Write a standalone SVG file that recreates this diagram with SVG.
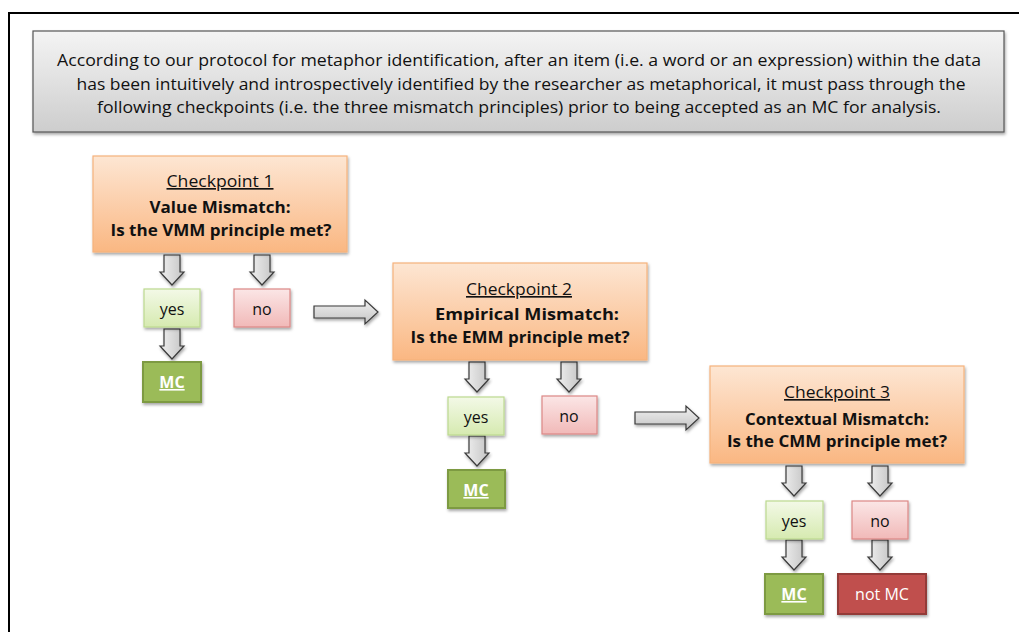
<svg xmlns="http://www.w3.org/2000/svg" xmlns:xlink="http://www.w3.org/1999/xlink" width="1019" height="632" viewBox="0 0 1019 632">
<defs>
<linearGradient id="gHead" x1="0" y1="0" x2="0" y2="1"><stop offset="0" stop-color="#f4f4f4"/><stop offset="1" stop-color="#cdcdcd"/></linearGradient>
<linearGradient id="gOrange" x1="0" y1="0" x2="0" y2="1"><stop offset="0" stop-color="#fde6d3"/><stop offset="1" stop-color="#fab782"/></linearGradient>
<linearGradient id="gYes" x1="0" y1="0" x2="0" y2="1"><stop offset="0" stop-color="#f3f9e7"/><stop offset="1" stop-color="#d6eab0"/></linearGradient>
<linearGradient id="gNo" x1="0" y1="0" x2="0" y2="1"><stop offset="0" stop-color="#fbe6e6"/><stop offset="1" stop-color="#f1b9b8"/></linearGradient>
<linearGradient id="gArrowV" x1="0" y1="0" x2="1" y2="0"><stop offset="0" stop-color="#f0f0f0"/><stop offset="1" stop-color="#c4c4c4"/></linearGradient>
<linearGradient id="gArrowH" x1="0" y1="0" x2="0" y2="1"><stop offset="0" stop-color="#f0f0f0"/><stop offset="1" stop-color="#c4c4c4"/></linearGradient>
<filter id="sh" x="-10%" y="-10%" width="125%" height="140%"><feDropShadow dx="1" dy="2" stdDeviation="1.5" flood-color="#000" flood-opacity="0.35"/></filter>
<path id="downArrow" d="M-8,0 H8 V17 H12 L0,30 L-12,17 H-8 Z"/>
<path id="rightArrow" d="M0,-6 H51 V-12 L64,0 L51,12 V6 H0 Z"/>
</defs>
<style>
text{font-family:"Open Sans",Lato,"Liberation Sans",sans-serif;fill:#111;text-anchor:middle}
.hdr{font-size:16px}
.cp{font-size:16.5px;text-decoration:underline}
.cpb{font-size:16.5px;font-weight:bold}
.lbl{font-size:16px}
.mc{font-size:16px;font-weight:bold;fill:#fff;text-decoration:underline}
.nmc{font-size:16px;fill:#fff}
.orange{fill:url(#gOrange);stroke:#f6b27c;stroke-width:1.2;filter:url(#sh)}
.yesb{fill:url(#gYes);stroke:#bcd98f;stroke-width:1.2;filter:url(#sh)}
.nob{fill:url(#gNo);stroke:#dd8886;stroke-width:1.2;filter:url(#sh)}
.mcb{fill:#9bbb59;stroke:#7d9a43;stroke-width:2;filter:url(#sh)}
.nmcb{fill:#c0504d;stroke:#933b39;stroke-width:2;filter:url(#sh)}
.av{fill:url(#gArrowV);stroke:#3a3a3a;stroke-width:1.2;filter:url(#sh)}
.ah{fill:url(#gArrowH);stroke:#3a3a3a;stroke-width:1.2;filter:url(#sh)}
</style>
<rect width="1019" height="632" fill="#fff"/>
<g id="frame" fill="none" stroke="#000" stroke-width="2">
<path d="M9,632 V13 H1019"/>
</g>
<g id="header">
<rect x="33" y="31" width="971" height="101" fill="url(#gHead)" stroke="#555" stroke-width="1.2" filter="url(#sh)"/>
<text class="hdr" x="519" y="66" textLength="924" lengthAdjust="spacingAndGlyphs">According to our protocol for metaphor identification, after an item (i.e. a word or an expression) within the data</text>
<text class="hdr" x="521" y="89.5" textLength="889" lengthAdjust="spacingAndGlyphs">has been intuitively and introspectively identified by the researcher as metaphorical, it must pass through the</text>
<text class="hdr" x="519" y="113" textLength="844" lengthAdjust="spacingAndGlyphs">following checkpoints (i.e. the three mismatch principles) prior to being accepted as an MC for analysis.</text>
</g>
<g id="connectors">
<use xlink:href="#downArrow" class="av" x="172" y="255"/>
<use xlink:href="#downArrow" class="av" x="262" y="255"/>
<use xlink:href="#downArrow" class="av" x="172" y="329"/>
<use xlink:href="#rightArrow" class="ah" x="314" y="312"/>
<use xlink:href="#downArrow" class="av" x="477" y="362"/>
<use xlink:href="#downArrow" class="av" x="569" y="362"/>
<use xlink:href="#downArrow" class="av" x="477" y="436"/>
<use xlink:href="#rightArrow" class="ah" x="635" y="418"/>
<use xlink:href="#downArrow" class="av" x="794" y="466"/>
<use xlink:href="#downArrow" class="av" x="880" y="466"/>
<use xlink:href="#downArrow" class="av" x="794" y="540"/>
<use xlink:href="#downArrow" class="av" x="880" y="540"/>
</g>
<g id="checkpoint1">
<rect class="orange" x="93" y="156" width="254" height="96"/>
<text class="cp" x="220" y="187" textLength="107" lengthAdjust="spacingAndGlyphs">Checkpoint 1</text>
<text class="cpb" x="220" y="213" textLength="141" lengthAdjust="spacingAndGlyphs">Value Mismatch:</text>
<text class="cpb" x="221" y="236" textLength="221" lengthAdjust="spacingAndGlyphs">Is the VMM principle met?</text>
</g>
<g id="yes1"><rect class="yesb" x="144" y="289" width="56" height="38"/><text class="lbl" x="172" y="315">yes</text></g>
<g id="no1"><rect class="nob" x="234" y="289" width="56" height="38"/><text class="lbl" x="262" y="315">no</text></g>
<g id="mc1"><rect class="mcb" x="143" y="362" width="58" height="40"/><text class="mc" x="172" y="388">MC</text></g>
<g id="checkpoint2">
<rect class="orange" x="393" y="263" width="254" height="97"/>
<text class="cp" x="519" y="295" textLength="106" lengthAdjust="spacingAndGlyphs">Checkpoint 2</text>
<text class="cpb" x="527" y="320" textLength="184" lengthAdjust="spacingAndGlyphs">Empirical Mismatch:</text>
<text class="cpb" x="520" y="343" textLength="219" lengthAdjust="spacingAndGlyphs">Is the EMM principle met?</text>
</g>
<g id="yes2"><rect class="yesb" x="448" y="397" width="56" height="38"/><text class="lbl" x="476" y="423">yes</text></g>
<g id="no2"><rect class="nob" x="542" y="396" width="55" height="38"/><text class="lbl" x="569" y="422">no</text></g>
<g id="mc2"><rect class="mcb" x="448" y="470" width="57" height="38"/><text class="mc" x="476" y="496">MC</text></g>
<g id="checkpoint3">
<rect class="orange" x="710" y="366" width="254" height="97"/>
<text class="cp" x="837" y="398" textLength="106" lengthAdjust="spacingAndGlyphs">Checkpoint 3</text>
<text class="cpb" x="837" y="425" textLength="184" lengthAdjust="spacingAndGlyphs">Contextual Mismatch:</text>
<text class="cpb" x="837" y="447" textLength="220" lengthAdjust="spacingAndGlyphs">Is the CMM principle met?</text>
</g>
<g id="yes3"><rect class="yesb" x="766" y="501" width="57" height="38"/><text class="lbl" x="794" y="527">yes</text></g>
<g id="no3"><rect class="nob" x="852" y="501" width="56" height="38"/><text class="lbl" x="880" y="527">no</text></g>
<g id="mc3"><rect class="mcb" x="765" y="574" width="58" height="40"/><text class="mc" x="794" y="600">MC</text></g>
<g id="notmc"><rect class="nmcb" x="838" y="574" width="88" height="40"/><text class="nmc" x="882" y="600">not MC</text></g>
</svg>
